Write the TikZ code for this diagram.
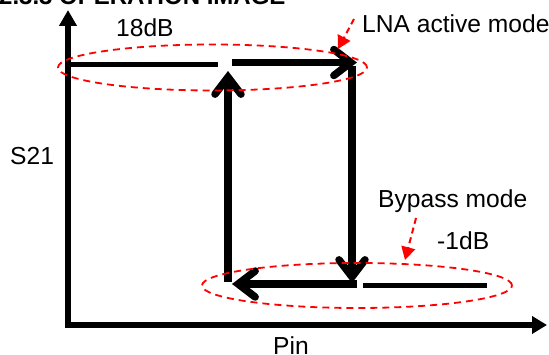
\documentclass[tikz,border=0pt]{standalone}
\usepackage{fontspec}
\setmainfont{Liberation Sans}
\usetikzlibrary{arrows.meta}
\begin{document}
\begin{tikzpicture}[x=1pt,y=-1pt,
  lbl/.style={font=\fontsize{24.6}{28}\selectfont, inner sep=0pt, anchor=base west},
  axis/.style={line width=6.5pt, {Triangle[length=16pt,width=17pt]}-{Triangle[length=15pt,width=17pt]}},
  trace/.style={line width=7.5pt, -{Straight Barb[length=17pt,width=26pt,line cap=round]}},
  plain/.style={line width=5pt},
  zone/.style={draw=red, dash pattern=on 7pt off 5pt, line width=1.8pt},
  hint/.style={red, line width=2pt, dash pattern=on 6pt off 4pt, -{Triangle[length=13pt,width=14pt]}}]
\useasboundingbox (0,0) rectangle (549,355);
\clip (0,0) rectangle (549,355);
% title (cut off at top)
\node[lbl, font=\bfseries\fontsize{24}{28}\selectfont] (title) at (-1,5) {2.3.3 OPERATION IMAGE};
% axes
\coordinate (O) at (68,325);
\coordinate (ytip) at (68,10);
\coordinate (xtip) at (547,325);
\draw[axis] (ytip) -- (O) -- (xtip);
% traces
\coordinate (a1) at (68,65);  \coordinate (a2) at (218,65);
\coordinate (b1) at (232,62.5); \coordinate (b2) at (357,62.5);
\coordinate (c1) at (352,66); \coordinate (c2) at (352,283);
\coordinate (d1) at (357,284); \coordinate (d2) at (232,284);
\coordinate (e1) at (363,285.5); \coordinate (e2) at (487,285.5);
\coordinate (f1) at (228,282); \coordinate (f2) at (228,71);
\draw[plain] (a1) -- (a2);
\draw[trace] (b1) -- (b2);
\draw[trace] (c1) -- (c2);
\draw[trace] (d1) -- (d2);
\draw[plain] (e1) -- (e2);
\draw[trace] (f1) -- (f2);
% zones
\coordinate (z1) at (212.5,67.5);
\coordinate (z2) at (357,285.5);
\draw[zone] (z1) ellipse [x radius=154.5pt, y radius=23pt];
\draw[zone] (z2) ellipse [x radius=155pt, y radius=22.5pt];
% labels
\node[lbl] (db18) at (116,37) {18dB};
\node[lbl] (lna) at (362,33) {LNA active mode};
\node[lbl] (byp) at (378,208) {Bypass mode};
\node[lbl] (db1) at (437,250) {-1dB};
\node[lbl] (s21) at (10,165) {S21};
\node[lbl] (pin) at (273,355) {Pin};
% hint arrows
\coordinate (h1) at (354,19); \coordinate (h2) at (338,49);
\coordinate (k1) at (416,218); \coordinate (k2) at (405,260);
\draw[hint] (h1) -- (h2);
\draw[hint] (k1) -- (k2);
\end{tikzpicture}
\end{document}
